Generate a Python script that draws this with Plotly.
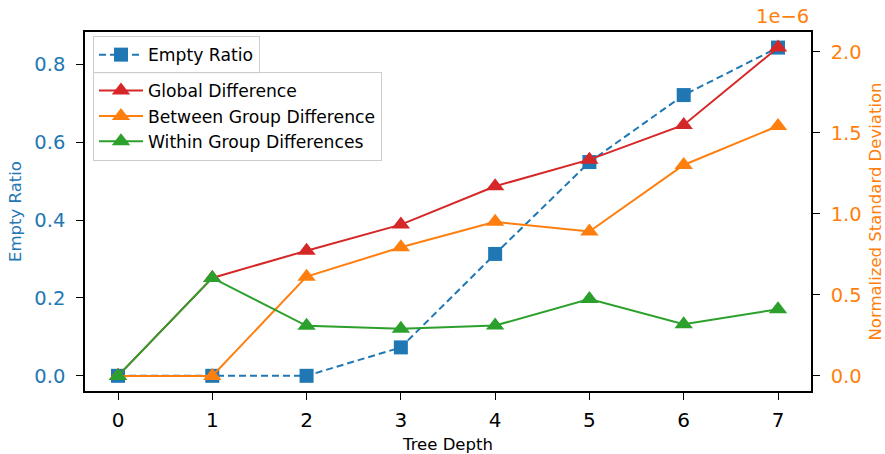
import plotly.graph_objects as go

# ---- data ----
tree_depth = [0, 1, 2, 3, 4, 5, 6, 7]
empty_ratio = [0.0, 0.0, 0.0, 0.073, 0.313, 0.549, 0.721, 0.843]
global_diff = [0.0, 0.605e-6, 0.773e-6, 0.934e-6, 1.171e-6, 1.335e-6, 1.549e-6, 2.027e-6]
between_diff = [0.0, 0.0, 0.613e-6, 0.794e-6, 0.951e-6, 0.891e-6, 1.302e-6, 1.543e-6]
within_diff = [0.0, 0.605e-6, 0.309e-6, 0.292e-6, 0.311e-6, 0.475e-6, 0.319e-6, 0.412e-6]

left_ticks = [0.0, 0.2, 0.4, 0.6, 0.8]
left_ticktext = ["0.0", "0.2", "0.4", "0.6", "0.8"]
right_ticks = [0.0, 0.5e-6, 1.0e-6, 1.5e-6, 2.0e-6]
right_ticktext = ["0.0", "0.5", "1.0", "1.5", "2.0"]

BLUE = "#1f77b4"
ORANGE = "#ff7f0e"
GREEN = "#2ca02c"
RED = "#d62728"
FONT = "DejaVu Sans"

fig = go.Figure()

fig.add_trace(go.Scatter(
    x=tree_depth, y=empty_ratio, name="Empty Ratio", mode="lines+markers",
    line=dict(color=BLUE, width=2, dash="7px,4px"),
    marker=dict(symbol="square", size=14, color=BLUE),
    yaxis="y", legend="legend", showlegend=True))

for name, vals, col in [("Global Difference", global_diff, RED),
                        ("Between Group Difference", between_diff, ORANGE),
                        ("Within Group Differences", within_diff, GREEN)]:
    fig.add_trace(go.Scatter(
        x=tree_depth, y=vals, name=name, mode="lines+markers",
        line=dict(color=col, width=2),
        marker=dict(symbol="triangle-up", size=16, color=col),
        yaxis="y2", legend="legend2", showlegend=True))

axis_common = dict(showline=True, linecolor="black", linewidth=1.5,
                   ticks="outside", ticklen=7, tickwidth=1.2, tickcolor="black",
                   showgrid=False, zeroline=False, automargin=False)

legend_common = dict(xanchor="left", yanchor="top", visible=True,
                     bgcolor="rgba(255,255,255,0.8)", bordercolor="#cccccc", borderwidth=1,
                     font=dict(size=17.2, color="black"), itemwidth=44)

fig.update_layout(
    width=885, height=454,
    margin=dict(l=85, r=74, t=32, b=63, autoexpand=False),
    showlegend=True,
    plot_bgcolor="white", paper_bgcolor="white",
    font=dict(family=FONT, size=17, color="black"),
    xaxis=dict(**axis_common, mirror=True, range=[-0.35, 7.35],
               tickvals=tree_depth, ticktext=[str(v) for v in tree_depth],
               tickfont=dict(size=20, color="black"), ticklabelstandoff=3,
               title=dict(text="Tree Depth", font=dict(size=16.5, color="black"), standoff=10)),
    yaxis=dict(**axis_common, range=[-0.039, 0.883],
               tickvals=left_ticks, ticktext=left_ticktext, ticklabelstandoff=7,
               tickfont=dict(size=19.5, color=BLUE),
               title=dict(text="Empty Ratio", font=dict(size=16.5, color=BLUE), standoff=9)),
    yaxis2=dict(**axis_common, overlaying="y", side="right", range=[-0.093e-6, 2.123e-6],
                tickvals=right_ticks, ticktext=right_ticktext, ticklabelstandoff=7,
                tickfont=dict(size=19.5, color=ORANGE),
                title=dict(text="Normalized Standard Deviation", font=dict(size=16.5, color=ORANGE), standoff=9)),
    legend=dict(x=0.011, y=0.989, **legend_common),
    legend2=dict(x=0.011, y=0.889, **legend_common),
    annotations=[dict(text="1e\u22126", xref="paper", yref="paper", x=1.0, y=1.0,
                      xanchor="right", yanchor="bottom", yshift=2, showarrow=False,
                      font=dict(size=19.5, color=ORANGE))],
)

fig.write_html("out.html", config={"displayModeBar": False},
               post_script="document.body.style.margin='0';document.body.style.padding='0';")
